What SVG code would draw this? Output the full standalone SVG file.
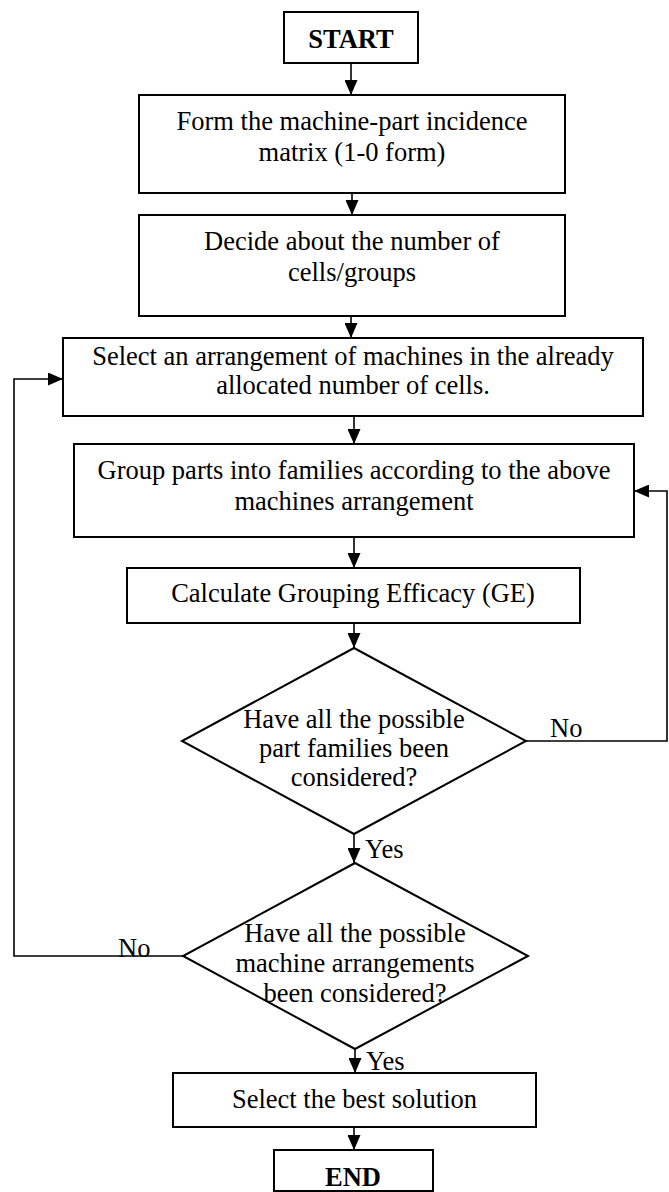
<svg xmlns="http://www.w3.org/2000/svg" width="669" height="1192" viewBox="0 0 669 1192">
<style>
.box{fill:#fff;stroke:#000;stroke-width:2}
.t{font-family:"Liberation Serif","Times New Roman",serif;font-size:26.5px;fill:#000;text-anchor:middle}
.b{font-weight:bold}
.lbl{font-family:"Liberation Serif","Times New Roman",serif;font-size:26.5px;fill:#000}
.c{fill:none;stroke:#000;stroke-width:1.6}
</style>
<defs>
<marker id="ah" markerUnits="userSpaceOnUse" markerWidth="15" markerHeight="13" refX="15" refY="6.5" orient="auto">
<path d="M0,0 L15,6.5 L0,13 z" fill="#000"/>
</marker>
</defs>
<rect width="669" height="1192" fill="#fff"/>
<g id="connectors">
<line class="c" x1="351" y1="63" x2="351" y2="95" marker-end="url(#ah)"/>
<line class="c" x1="352" y1="193" x2="352" y2="215" marker-end="url(#ah)"/>
<line class="c" x1="351" y1="316" x2="351" y2="338" marker-end="url(#ah)"/>
<line class="c" x1="354" y1="416" x2="354" y2="444" marker-end="url(#ah)"/>
<line class="c" x1="354" y1="537" x2="354" y2="568" marker-end="url(#ah)"/>
<line class="c" x1="354" y1="623" x2="354" y2="648" marker-end="url(#ah)"/>
<line class="c" x1="354" y1="834" x2="354" y2="863" marker-end="url(#ah)"/>
<polyline class="c" points="526,741 667,741 667,491 634,491" marker-end="url(#ah)"/>
<polyline class="c" points="183,956 14,956 14,379 63,379" marker-end="url(#ah)"/>
<line class="c" x1="355" y1="1049" x2="355" y2="1073" marker-end="url(#ah)"/>
<line class="c" x1="354" y1="1127" x2="354" y2="1150" marker-end="url(#ah)"/>
<text class="lbl" x="365" y="858">Yes</text>
<text class="lbl" x="550" y="737">No</text>
<text class="lbl" x="118" y="957">No</text>
<text class="lbl" x="366" y="1070">Yes</text>
</g>
<g id="start">
<rect class="box" x="284" y="12" width="134" height="51"/>
<text class="t b" x="351" y="48">START</text>
</g>
<g id="form">
<rect class="box" x="139" y="95" width="426" height="98"/>
<text class="t" x="352" y="130">Form the machine-part incidence</text>
<text class="t" x="352" y="161">matrix (1-0 form)</text>
</g>
<g id="decide">
<rect class="box" x="139" y="215" width="426" height="101"/>
<text class="t" x="352" y="250">Decide about the number of</text>
<text class="t" x="352" y="281">cells/groups</text>
</g>
<g id="select">
<rect class="box" x="63" y="338" width="580" height="78"/>
<text class="t" x="353" y="365">Select an arrangement of machines in the already</text>
<text class="t" x="353" y="394">allocated number of cells.</text>
</g>
<g id="group">
<rect class="box" x="74" y="444" width="560" height="93"/>
<text class="t" x="354" y="479">Group parts into families according to the above</text>
<text class="t" x="354" y="510">machines arrangement</text>
</g>
<g id="calc">
<rect class="box" x="127" y="568" width="453" height="55"/>
<text class="t" x="353" y="602">Calculate Grouping Efficacy (GE)</text>
</g>
<g id="decision1">
<polygon class="box" points="354,648 526,741 354,834 182,741"/>
<text class="t" x="354" y="728">Have all the possible</text>
<text class="t" x="354" y="757">part families been</text>
<text class="t" x="354" y="786">considered?</text>
</g>
<g id="decision2">
<polygon class="box" points="355,863 528,956 355,1049 183,956" fill="none"/>
<text class="t" x="355" y="942">Have all the possible</text>
<text class="t" x="355" y="972">machine arrangements</text>
<text class="t" x="355" y="1002">been considered?</text>
</g>
<g id="best">
<rect class="box" x="173" y="1073" width="363" height="54"/>
<text class="t" x="354.5" y="1108">Select the best solution</text>
</g>
<g id="end">
<rect class="box" x="274" y="1150" width="159" height="41"/>
<text class="t b" x="353" y="1186">END</text>
</g>
</svg>
